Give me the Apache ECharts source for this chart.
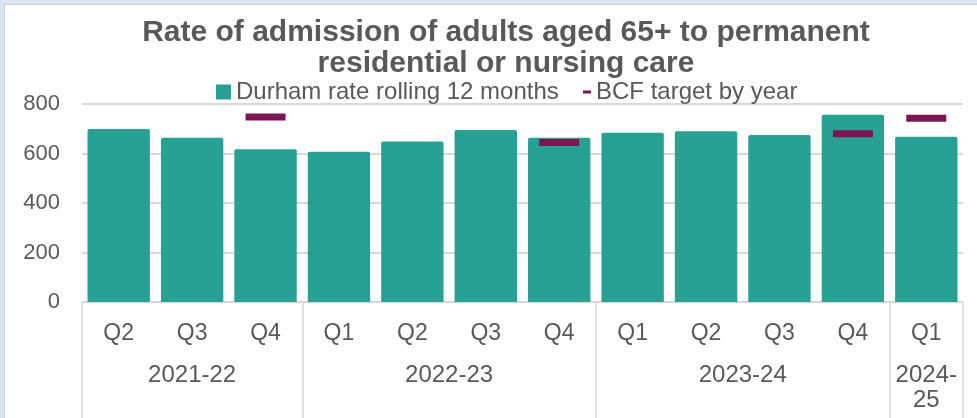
<!DOCTYPE html>
<html>
<head>
<meta charset="utf-8">
<script src="https://cdn.jsdelivr.net/npm/echarts@6/dist/echarts.min.js"></script>
<style>
  html, body { margin: 0; padding: 0; background: #dce6f2; }
  #frame {
    position: absolute; left: 4px; top: 4px; right: 0; bottom: 0;
    background: #ffffff;
    border-left: 1px solid #cfcfcf; border-top: 1px solid #cfcfcf;
  }
  #chart { position: absolute; left: 0; top: 0; width: 977px; height: 418px; }
</style>
</head>
<body>
<div id="frame"></div>
<div id="chart"></div>
<script>
// Quarterly rolling-12-month admission rate per 100,000 population (65+)
const quarters = ['Q2', 'Q3', 'Q4', 'Q1', 'Q2', 'Q3', 'Q4', 'Q1', 'Q2', 'Q3', 'Q4', 'Q1'];
const durhamRate = [699, 664, 617, 607, 648, 695, 664, 684, 690, 675, 757, 668];
// Annual BCF target, shown against the quarter it applies to
const bcfTarget = [null, null, 747, null, null, null, 644, null, null, null, 680, 742];
// Financial years and how many quarters each covers
const yearLabels = ['2021-22', '2022-23', '2023-24', '2024-25'];
const yearSizes = [3, 4, 4, 1];
const yTicks = [0, 200, 400, 600, 800];

// Year boundaries and centres on a 0..n value scale underneath the quarters
const yearEdges = [0];
yearSizes.forEach(s => yearEdges.push(yearEdges[yearEdges.length - 1] + s));
const yearCentres = yearSizes.map((s, i) => yearEdges[i] + s / 2);

const TEXT = '#595959';
const GRID = '#d9d9d9';
const TEAL = '#28a195';
const MAROON = '#7d1650';
const FONT = '"Liberation Sans", Arial, sans-serif';

const chart = echarts.init(document.getElementById('chart'), null, { renderer: 'canvas' });
chart.setOption({
  backgroundColor: 'transparent',
  animation: false,
  textStyle: { fontFamily: FONT },
  title: {
    text: 'Rate of admission of adults aged 65+ to permanent\nresidential or nursing care',
    left: 506,
    textAlign: 'center',
    top: 17,
    padding: 0,
    textStyle: {
      fontFamily: FONT, fontSize: 30, fontWeight: 'bold',
      color: TEXT, lineHeight: 31
    }
  },
  legend: [
    {
      data: ['Durham rate rolling 12 months'],
      left: 216, top: 80, padding: 0,
      itemWidth: 15, itemHeight: 15, icon: 'rect',
      textStyle: { fontFamily: FONT, fontSize: 24, color: TEXT }
    },
    {
      data: ['BCF target by year'],
      left: 583, top: 80, padding: 0,
      itemWidth: 8, itemHeight: 3, icon: 'rect',
      textStyle: { fontFamily: FONT, fontSize: 24, color: TEXT }
    }
  ],
  grid: { left: 82, right: 14, top: 104, bottom: 116, containLabel: false },
  xAxis: [
    {
      type: 'category',
      data: quarters,
      position: 'bottom',
      axisLine: { show: true, lineStyle: { color: GRID, width: 1.5 } },
      axisTick: { show: false },
      axisLabel: { fontFamily: FONT, fontSize: 23, color: TEXT, margin: 20 }
    },
    {
      type: 'value',
      min: 0,
      max: yearEdges[yearEdges.length - 1],
      position: 'bottom',
      axisLine: { show: false },
      splitLine: { show: false },
      axisTick: {
        show: true,
        customValues: yearEdges,
        length: 118,
        lineStyle: { color: GRID, width: 1.5 }
      },
      axisLabel: {
        show: true,
        customValues: yearCentres,
        margin: 61,
        fontFamily: FONT, fontSize: 24, color: TEXT, lineHeight: 25,
        formatter: function (v) {
          const i = yearCentres.findIndex(c => Math.abs(c - v) < 1e-6);
          if (i < 0) return '';
          const label = yearLabels[i];
          // a single-quarter year is too narrow for the label on one line
          return yearSizes[i] === 1 ? label.replace('-', '-\n') : label;
        }
      }
    }
  ],
  yAxis: {
    type: 'value',
    min: yTicks[0],
    max: yTicks[yTicks.length - 1],
    interval: yTicks[1] - yTicks[0],
    axisLine: { show: false },
    axisTick: { show: false },
    splitLine: { lineStyle: { color: GRID, width: 2 } },
    axisLabel: { fontFamily: FONT, fontSize: 22, color: TEXT, margin: 22 }
  },
  series: [
    {
      name: 'Durham rate rolling 12 months',
      type: 'bar',
      xAxisIndex: 0,
      data: durhamRate,
      barCategoryGap: '15%',
      itemStyle: { color: TEAL, borderRadius: [2, 2, 0, 0] },
      z: 2
    },
    {
      name: 'BCF target by year',
      type: 'scatter',
      xAxisIndex: 0,
      data: bcfTarget,
      symbol: 'rect',
      symbolSize: [40, 7],
      itemStyle: { color: MAROON, opacity: 1 },
      z: 3
    }
  ]
});
</script>
</body>
</html>
